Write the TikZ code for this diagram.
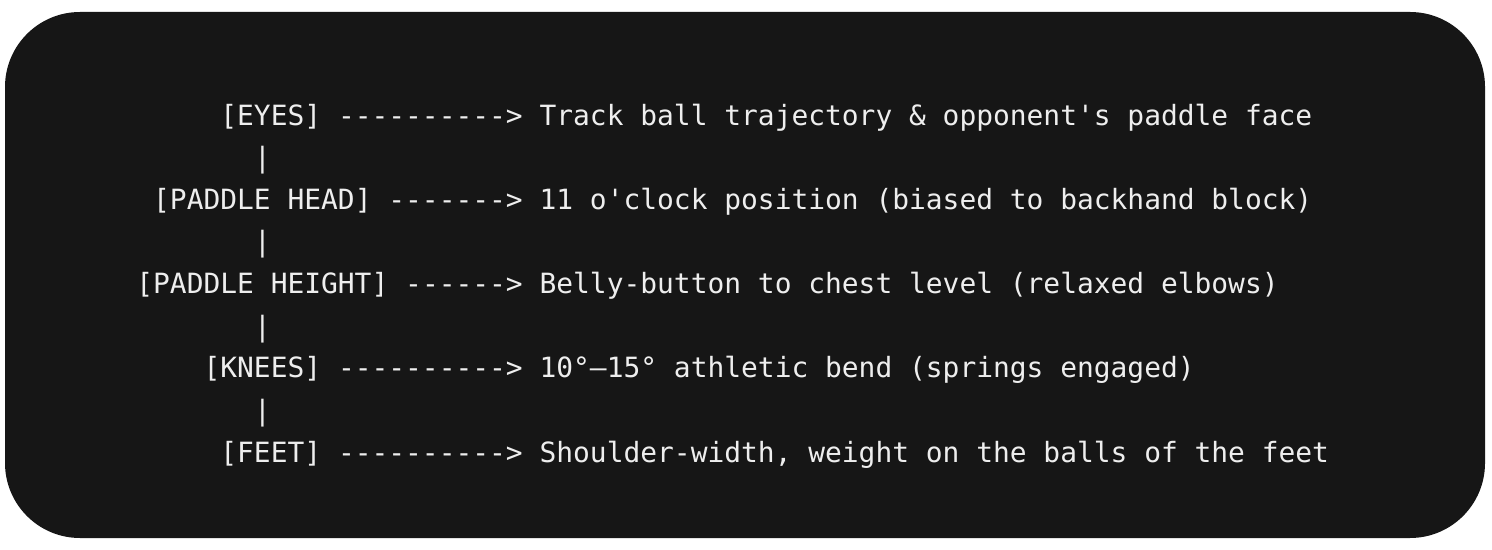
\documentclass[tikz,border=0pt]{standalone}
\usepackage{fontspec}
\newfontfamily\codefont{DejaVu Sans Mono}
\usepackage{tikz}
\definecolor{codebg}{HTML}{161616}
\definecolor{codefg}{HTML}{EEEEEE}
\tikzset{code/.style={anchor=base west, inner sep=0pt, text=codefg, font=\codefont\fontsize{13.95}{16}\selectfont}}

\begin{document}
\begin{tikzpicture}[x=0.5pt,y=-0.5pt]
\useasboundingbox (0,0) rectangle (1492,550);
\fill[white] (0,0) rectangle (1492,550);
\fill[codebg, rounded corners=37.5pt] (5,12) rectangle (1485,538);
% body parts
\node[code] (eyes) at (220,126) {[EYES]};
\node[code] (head) at (152.8,210) {[PADDLE HEAD]};
\node[code] (height) at (136,294) {[PADDLE HEIGHT]};
\node[code] (knees) at (203.2,378) {[KNEES]};
\node[code] (feet) at (220,462) {[FEET]};
% bars between them
\node[code] (bar1) at (253.6,168) {|};
\node[code] (bar2) at (253.6,252) {|};
\node[code] (bar3) at (253.6,336) {|};
\node[code] (bar4) at (253.6,420) {|};
% arrows
\node[code] (eyesarr) at (337.6,126) {---------->};
\node[code] (headarr) at (388,210) {------->};
\node[code] (heightarr) at (404.8,294) {------>};
\node[code] (kneesarr) at (337.6,378) {---------->};
\node[code] (feetarr) at (337.6,462) {---------->};
% cues
\node[code] (eyestxt) at (539.2,126) {Track ball trajectory \& opponent's paddle face};
\node[code] (headtxt) at (539.2,210) {11 o'clock position (biased to backhand block)};
\node[code] (heighttxt) at (539.2,294) {Belly-button to chest level (relaxed elbows)};
\node[code] (kneestxt) at (539.2,378) {10°–15° athletic bend (springs engaged)};
\node[code] (feettxt) at (539.2,462) {Shoulder-width, weight on the balls of the feet};
\end{tikzpicture}
\end{document}
